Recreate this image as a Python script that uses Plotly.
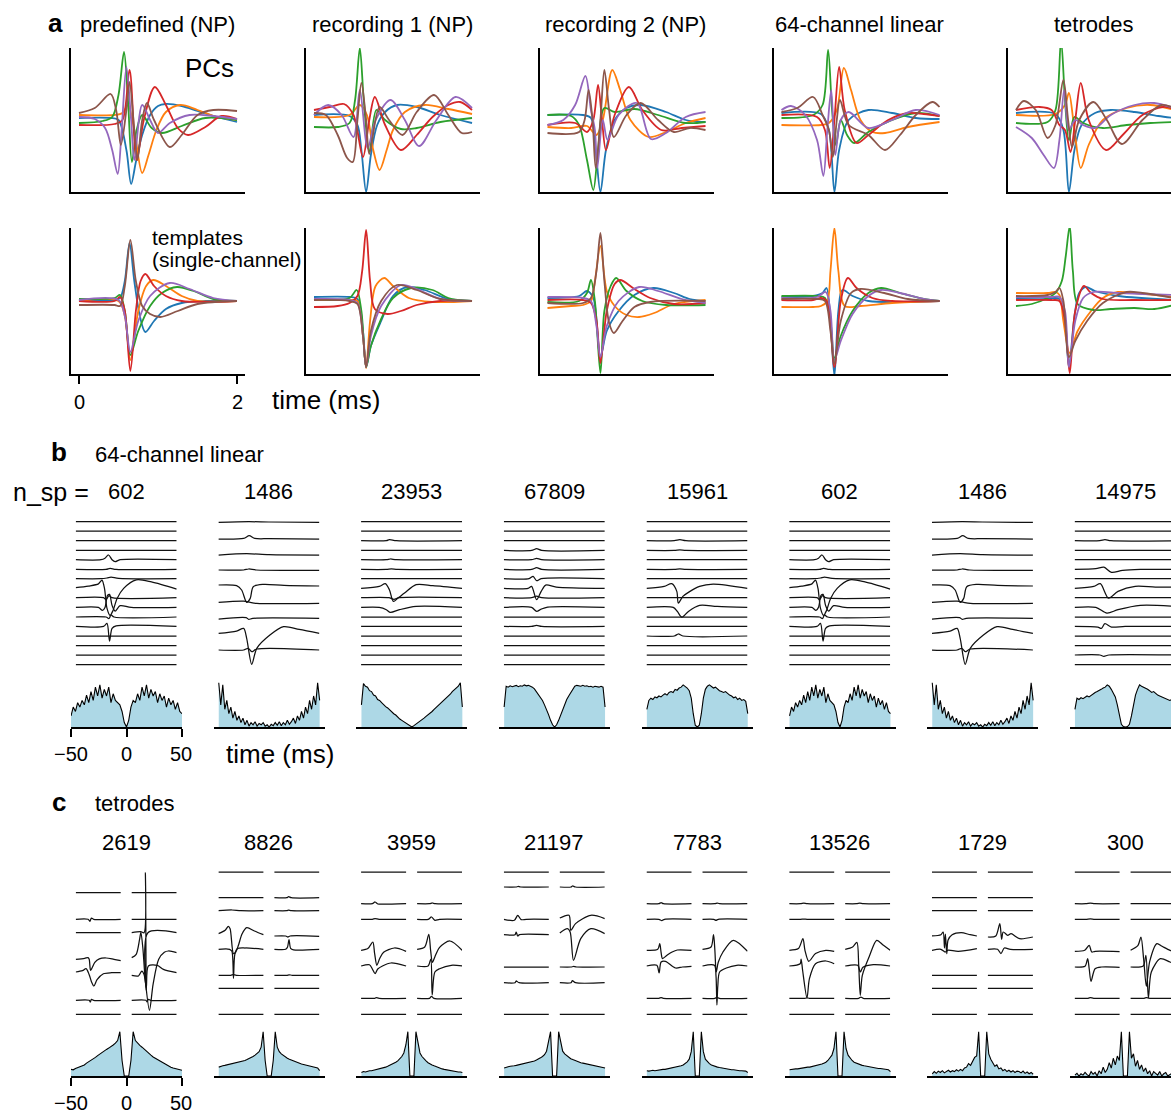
import plotly.graph_objects as go

W, H = 1171, 1113
FONT = "Liberation Sans, Arial, Helvetica, sans-serif"
TAB10 = ["#1f77b4", "#ff7f0e", "#2ca02c", "#d62728", "#9467bd", "#8c564b"]
ACG_BLUE = "#add8e6"

# ============================ DATA ============================
# ---- panel a: (time in ms, amplitude a.u.) key points; colours in tab10 order
A_TITLES = ["predefined (NP)", "recording 1 (NP)", "recording 2 (NP)", "64-channel linear", "tetrodes"]

pc_predefined = [
    [(0,0.2),(0.4,0.2),(0.5,0),(0.6,-3),(0.66,-6.4),(0.72,-4.2),(0.8,-1.5),(0.9,0.5),(1.0,1.4),(1.1,1.6),(1.3,1.4),(1.5,0.9),(1.7,0.4),(2.0,-0.2)],
    [(0,0.5),(0.45,0.5),(0.55,0.7),(0.62,1.5),(0.7,-1),(0.8,-5.3),(0.88,-3.5),(0.98,-1),(1.1,0.8),(1.28,1.5),(1.5,1.0),(1.75,0.3),(2.0,0)],
    [(0,-0.3),(0.3,-0.1),(0.42,0.3),(0.5,2.5),(0.57,6.8),(0.62,2),(0.67,-4.2),(0.73,-1),(0.8,0.5),(0.92,-0.8),(1.05,-1.3),(1.3,-0.6),(1.6,0.2),(2.0,0)],
    [(0,-0.5),(0.45,-0.4),(0.55,0),(0.64,5),(0.73,-4),(0.82,0),(0.96,3.3),(1.1,1.5),(1.25,-0.8),(1.38,-1.5),(1.6,-0.7),(1.8,0.4),(2.0,0.1)],
    [(0,0.3),(0.2,0.1),(0.33,-0.8),(0.42,-3),(0.49,-5.4),(0.54,-1),(0.6,5.3),(0.66,0),(0.7,-4),(0.8,1.5),(0.9,0),(1.0,-1.3),(1.15,-0.3),(1.4,0.5),(1.7,0.4),(2.0,0.1)],
    [(0,0.7),(0.2,1.2),(0.4,2.6),(0.47,1),(0.53,-2.5),(0.6,1),(0.64,3.8),(0.7,-1),(0.74,-4),(0.8,0),(0.86,1.7),(0.95,0),(1.15,-2.7),(1.3,-1.5),(1.5,0.5),(1.7,1),(2.0,0.9)],
]
pc_rec1 = [
    [(0,0.5),(0.45,0.4),(0.55,-0.5),(0.6,-3),(0.66,-7.2),(0.72,-3.5),(0.8,-0.5),(0.9,0.8),(1.05,1.5),(1.3,1.3),(1.6,0.5),(2.0,-0.3)],
    [(0,0.3),(0.45,0.5),(0.58,1.5),(0.67,0.5),(0.75,-3),(0.83,-5),(0.92,-3),(1.0,-1),(1.15,0.8),(1.4,1.5),(1.7,1.1),(2.0,0.6)],
    [(0,-0.7),(0.3,-0.7),(0.45,-0.3),(0.52,2),(0.58,7.2),(0.63,2),(0.7,-3.2),(0.79,1),(0.9,0),(1.1,-0.9),(1.3,-0.8),(1.6,-0.2),(2.0,0.2)],
    [(0,1),(0.2,1.3),(0.38,1.6),(0.5,0.5),(0.62,-3.7),(0.7,0),(0.77,2.3),(0.9,-0.5),(1.1,-3),(1.3,-1.5),(1.5,0.3),(1.7,1.5),(1.85,1.8),(2.0,1)],
    [(0,0.5),(0.18,1.5),(0.35,0.5),(0.5,-1.7),(0.58,3),(0.68,-2.8),(0.78,0),(0.97,2),(1.15,0),(1.33,-2.6),(1.55,0),(1.79,2.3),(2.0,1.2)],
    [(0,0.7),(0.15,0.5),(0.3,-1.5),(0.42,-3.8),(0.49,-4.2),(0.55,0),(0.6,3.7),(0.66,0),(0.7,-3.4),(0.83,1.3),(0.95,0),(1.12,-1.5),(1.3,0.8),(1.52,2.5),(1.7,0.5),(1.87,-1.3),(2.0,-1.2)],
]
pc_rec2 = [
    [(0,0.5),(0.45,0.5),(0.55,0.2),(0.61,-3),(0.67,-7.2),(0.74,-3),(0.85,0),(1.0,1.2),(1.18,1.5),(1.5,0.8),(1.75,0),(2.0,-0.2)],
    [(0,-0.7),(0.3,-0.8),(0.5,-0.6),(0.62,-1.5),(0.7,0),(0.82,5),(0.92,3),(1.05,0),(1.28,-1.7),(1.5,-1.2),(1.75,-0.3),(2.0,0.2)],
    [(0,0.5),(0.3,0.4),(0.4,-0.5),(0.5,-4),(0.58,-7),(0.64,-3),(0.72,1.2),(0.85,0.8),(1.1,1.1),(1.4,0.5),(1.75,-0.3),(2.0,-0.2)],
    [(0,-0.5),(0.35,-0.3),(0.5,-1.2),(0.58,0),(0.64,3.5),(0.69,0),(0.74,-3),(0.85,0.5),(1.03,3.3),(1.2,1),(1.44,-1),(1.7,-0.8),(2.0,-0.6)],
    [(0,-0.5),(0.2,0),(0.35,1.5),(0.48,4.4),(0.55,1),(0.6,-1),(0.63,-4.8),(0.7,0),(0.76,-2),(0.9,0.5),(1.13,1.7),(1.31,-1.9),(1.5,-1.3),(1.75,0.3),(2.0,0.8)],
    [(0,-1.3),(0.4,-1.2),(0.47,0),(0.52,3),(0.57,0),(0.61,-4.8),(0.67,0),(0.72,5),(0.78,1),(0.84,-1.7),(1.0,0.5),(1.18,1.7),(1.4,0),(1.6,-1.2),(1.8,-0.8),(2.0,-1.0)],
]
pc_linear64 = [
    [(0,0.7),(0.5,0.6),(0.6,-1),(0.67,-7.2),(0.73,-3),(0.85,0),(1.1,1),(1.4,0.7),(1.7,0.2),(2.0,0.1)],
    [(0,-0.5),(0.5,-0.5),(0.6,-0.3),(0.7,1),(0.79,5.2),(0.88,3),(1.0,0),(1.15,-1.2),(1.31,-1.3),(1.6,-0.7),(2.0,-0.2)],
    [(0,0.2),(0.4,0.5),(0.52,1.5),(0.59,7),(0.64,1),(0.69,-2.5),(0.75,0),(0.83,-1.5),(0.92,-2.3),(1.1,-1.2),(1.4,0),(1.7,0.7),(2.0,0.4)],
    [(0,0.5),(0.45,0.3),(0.55,-1),(0.61,-4.8),(0.67,0),(0.73,5.3),(0.8,1),(0.95,-2.3),(1.1,-1.5),(1.35,0),(1.6,0.7),(1.8,0.6),(2.0,0.4)],
    [(0,1),(0.12,1.4),(0.3,0.5),(0.45,-2),(0.53,-5.6),(0.58,-1),(0.63,3),(0.68,-3.5),(0.75,0),(0.85,0.8),(1.1,-0.8),(1.4,0),(1.7,1),(2.0,0.5)],
    [(0,0.8),(0.2,1.2),(0.4,2.3),(0.52,0.5),(0.6,-1),(0.65,-3.7),(0.7,0),(0.74,2),(0.85,-0.5),(1.1,-1.5),(1.31,-3),(1.5,-1.5),(1.7,0.5),(1.91,1.8),(2.0,1.3)],
]
pc_tetrodes = [
    [(0,0.7),(0.5,0.6),(0.6,-1),(0.67,-7.2),(0.74,-3),(0.83,-0.5),(1.0,0.7),(1.2,1),(1.5,0.8),(1.8,0.4),(2.0,0.2)],
    [(0,0.5),(0.5,0.6),(0.62,1.5),(0.67,2.7),(0.74,-1),(0.82,-4.8),(0.92,-2.5),(1.1,0),(1.4,1.2),(1.7,1.5),(2.0,1.0)],
    [(0,-0.3),(0.4,-0.2),(0.5,1),(0.57,8),(0.62,2),(0.67,-2),(0.74,0.3),(0.85,-0.3),(1.1,-0.8),(1.4,-0.5),(1.7,-0.3),(2.0,-0.2)],
    [(0,1),(0.3,1.3),(0.45,1),(0.55,-0.5),(0.62,-1),(0.69,-3.2),(0.75,0),(0.82,3.7),(0.92,0),(1.14,-3),(1.35,-1.5),(1.6,0.5),(1.86,1.3),(2.0,1.1)],
    [(0,-0.7),(0.2,-1.8),(0.35,-3.5),(0.48,-4.8),(0.55,-2),(0.61,3),(0.67,-1),(0.75,0),(0.85,-0.5),(1.0,-0.8),(1.2,0.5),(1.5,1.5),(1.75,1.7),(2.0,1.2)],
    [(0,1),(0.1,1.9),(0.25,1),(0.4,-1.8),(0.5,-0.5),(0.6,4),(0.66,0),(0.71,-2.7),(0.8,0),(0.98,1.8),(1.15,0),(1.34,-2.4),(1.6,0),(1.84,1.5),(2.0,1.2)],
]

tpl_predefined = [
    [(0,0.1),(0.45,0.1),(0.52,0.3),(0.58,2),(0.64,5.8),(0.7,2),(0.77,-1.5),(0.84,-3.1),(0.95,-2),(1.1,-0.8),(1.3,-0.2),(1.6,0),(2.0,0)],
    [(0,0),(0.5,0),(0.58,-1.5),(0.65,-5.9),(0.75,-1),(0.85,1.5),(0.94,2.1),(1.1,1.5),(1.3,0.5),(1.5,0),(2.0,0)],
    [(0,0.2),(0.45,0.3),(0.52,0.6),(0.58,-1),(0.65,-5.4),(0.75,-3),(0.9,-0.5),(1.05,0.8),(1.24,1.4),(1.45,1),(1.7,0.2),(2.0,0)],
    [(0,0),(0.45,0),(0.52,0.4),(0.58,-1),(0.65,-7),(0.72,-1),(0.78,2),(0.84,2.7),(0.95,1.5),(1.1,0.5),(1.3,0),(2.0,0)],
    [(0,0.1),(0.5,0.1),(0.58,-1.5),(0.65,-5.1),(0.75,-2),(0.9,0.5),(1.15,1.8),(1.4,1.2),(1.7,0.3),(2.0,0)],
    [(0,-0.4),(0.45,-0.4),(0.52,-0.5),(0.58,1.5),(0.65,6.1),(0.72,2),(0.8,-0.5),(0.9,-1.3),(1.03,-1.6),(1.25,-1),(1.5,-0.3),(2.0,0)],
]
tpl_rec1 = [
    [(0,0.4),(0.45,0.4),(0.55,0.2),(0.62,-3),(0.66,-6.6),(0.72,-4.5),(0.85,-2),(1.0,0.5),(1.18,1.4),(1.4,1.1),(1.7,0.2),(2.0,0)],
    [(0,0.1),(0.45,0.1),(0.55,0),(0.62,-3.5),(0.66,-6.7),(0.71,-2),(0.78,1.5),(0.89,2.3),(1.0,1.5),(1.2,0.3),(1.5,-0.1),(2.0,0)],
    [(0,0.2),(0.45,0.3),(0.54,1.1),(0.6,-1),(0.66,-6.6),(0.72,-4.5),(0.85,-1.8),(1.0,0.3),(1.23,1.3),(1.5,1.1),(1.7,0.3),(2.0,0)],
    [(0,-0.6),(0.3,-0.5),(0.45,-0.2),(0.55,0.5),(0.61,3),(0.66,7.1),(0.71,2),(0.77,-0.8),(0.93,-1.3),(1.1,-1),(1.3,-0.4),(1.6,0),(2.0,0)],
    [(0,0.2),(0.45,0.1),(0.55,-0.2),(0.62,-3.5),(0.66,-6.6),(0.72,-3.5),(0.85,-0.5),(1.1,1.6),(1.3,1.2),(1.6,0.2),(2.0,0)],
    [(0,0.1),(0.45,0),(0.55,-0.3),(0.62,-3.5),(0.66,-6.6),(0.72,-3),(0.85,0),(1.05,1.6),(1.3,1.1),(1.6,0.2),(2.0,0)],
]
tpl_rec2 = [
    [(0,0.3),(0.4,0.5),(0.5,1),(0.58,0.3),(0.67,-5.6),(0.75,-3),(0.9,-1),(1.1,0.6),(1.34,1.3),(1.6,0.8),(1.8,0.2),(2.0,0)],
    [(0,-0.7),(0.3,-0.5),(0.45,-0.4),(0.55,0),(0.6,2),(0.67,5.5),(0.75,1),(0.85,-0.5),(1.0,-1.4),(1.16,-1.6),(1.35,-1.2),(1.6,-0.3),(2.0,0.1)],
    [(0,-0.1),(0.4,0),(0.5,0.8),(0.55,2.1),(0.6,0),(0.67,-7.2),(0.72,-1),(0.8,1.5),(0.87,2.3),(1.0,1),(1.2,0),(1.5,-0.4),(2.0,-0.4)],
    [(0,0.1),(0.45,0.1),(0.55,-0.2),(0.62,-2),(0.67,-6.2),(0.75,-1),(0.85,1.7),(0.92,2.1),(1.1,1.2),(1.3,0.3),(1.6,-0.3),(2.0,-0.2)],
    [(0,0.4),(0.45,0.3),(0.55,0),(0.62,-2.5),(0.67,-5.6),(0.75,-2.5),(0.9,0),(1.16,1.4),(1.4,1),(1.7,0.2),(2.0,-0.2)],
    [(0,-0.2),(0.45,-0.2),(0.55,0.3),(0.62,3),(0.67,6.8),(0.72,2),(0.78,-2.2),(0.84,-3.2),(0.95,-2),(1.1,-0.6),(1.3,-0.1),(2.0,0)],
]
tpl_linear64 = [
    [(0,0.4),(0.4,0.5),(0.52,0.8),(0.57,1.3),(0.62,-2),(0.67,-7.5),(0.72,-1),(0.77,1.1),(0.9,0.5),(1.1,0),(2.0,0)],
    [(0,-0.6),(0.4,-0.6),(0.5,-0.5),(0.58,0),(0.62,3),(0.67,7.3),(0.72,3),(0.8,-0.5),(1.0,-0.5),(1.4,-0.2),(2.0,0)],
    [(0,0.5),(0.45,0.5),(0.55,0.3),(0.62,-2),(0.67,-5.7),(0.75,-3.5),(0.9,-1),(1.1,0.8),(1.26,1.3),(1.5,0.8),(1.8,0.2),(2.0,0)],
    [(0,0.1),(0.4,0.1),(0.5,0.3),(0.57,0),(0.67,-6.6),(0.75,0),(0.84,2.3),(0.95,1.3),(1.15,0.3),(1.4,0),(2.0,0)],
    [(0,0.3),(0.45,0.4),(0.56,0.9),(0.62,-1),(0.67,-5.9),(0.75,-4),(0.9,-1.3),(1.1,0.5),(1.26,1.1),(1.5,0.8),(1.8,0.2),(2.0,0)],
    [(0,0.2),(0.45,0.2),(0.55,0),(0.62,-3),(0.67,-6.3),(0.75,-2),(0.88,0.8),(1.0,1.2),(1.3,0.8),(1.6,0.2),(2.0,0)],
]
tpl_tetrodes = [
    [(0,0.3),(0.45,0.3),(0.55,0.2),(0.62,-2),(0.67,-6.6),(0.74,-1.5),(0.8,0.8),(0.88,1.4),(1.0,1),(1.3,0.5),(2.0,0.1)],
    [(0,0.8),(0.4,0.8),(0.5,0.9),(0.55,0.6),(0.6,-2),(0.68,-5.2),(0.78,-3),(0.95,-1),(1.1,0.3),(1.29,0.9),(1.5,0.8),(2.0,0.4)],
    [(0,-0.5),(0.2,-0.3),(0.4,0.3),(0.5,0.8),(0.58,2),(0.63,4.5),(0.68,7.5),(0.72,3),(0.78,-0.3),(0.98,-0.9),(1.2,-0.8),(1.5,-0.7),(1.75,-0.8),(2.0,-0.4)],
    [(0,0.1),(0.45,0.1),(0.55,0),(0.62,-2),(0.68,-7.2),(0.75,-1),(0.86,1.5),(0.95,0.8),(1.1,0.2),(1.5,0.1),(2.0,0.1)],
    [(0,0.4),(0.45,0.4),(0.55,0.4),(0.62,-1),(0.67,-6.6),(0.75,-2),(0.85,0.3),(0.98,0.9),(1.3,0.8),(1.6,0.7),(2.0,0.6)],
    [(0,0.5),(0.4,0.6),(0.5,0.9),(0.55,1.3),(0.6,0),(0.67,-5.6),(0.75,-4),(0.9,-2),(1.1,-0.2),(1.4,0.9),(1.6,0.8),(2.0,0.3)],
]

# ---- shared ACG lag bins (ms)
ACG_LAGS = [-50, -48, -46, -44, -42, -40, -38, -36, -34, -32, -30, -28, -26, -24, -22, -20, -18, -16,
            -14, -12, -10, -8, -6, -4, -2, 0, 2, 4, 6, 8, 10, 12, 14, 16, 18, 20, 22, 24, 26, 28, 30,
            32, 34, 36, 38, 40, 42, 44, 46, 48, 50]
FLAT = [(0, 0), (2, 0)]

# ---- panel b: 64-channel linear units (channel offsets a.u., waveforms a.u.)
B_NSP = [602, 1486, 23953, 67809, 15961, 602, 1486, 14975]
rows16 = [0, 9.3, 19, 28.7, 38, 47.7, 57, 66.7, 76, 85.7, 95.3, 104.7, 114.3, 124, 133.3, 143]
rows9 = [0, 16.7, 32.7, 48.3, 64, 80.7, 96.7, 111.7, 128.3]

wav_602 = {
    4: [(0,0),(0.5,0),(0.58,1.5),(0.65,4.7),(0.72,0),(0.78,-2),(0.88,0),(2,0)],
    5: [(0,0),(0.6,0),(0.68,1),(0.8,0),(2,0)],
    6: [(0,0),(0.5,0),(0.62,0.7),(0.7,1.5),(0.85,0.3),(2,0)],
    7: [(0,0.7),(0.25,2.3),(0.45,4.5),(0.52,8.3),(0.57,0),(0.62,-20),(0.68,-27),(0.74,-22),(0.82,-10),(0.95,0),(1.2,8.5),(1.5,6.5),(2,-0.7)],
    8: [(0,0),(0.55,0),(0.6,-2),(0.66,2),(0.72,0),(2,0)],
    9: [(0,0),(0.45,0),(0.53,-3),(0.58,0),(0.63,12),(0.67,13),(0.72,2),(0.78,-3.7),(0.88,1.7),(1.1,0),(2,0)],
    10: [(0,0),(0.6,0),(0.66,-1.5),(0.7,2),(0.76,0),(2,0)],
    11: [(0,0),(0.55,0),(0.62,3),(0.67,-14.7),(0.72,-2),(0.8,0.5),(2,0)],
}
wav_1486 = {
    0: [(0,-0.7),(0.6,0),(1.0,-0.3),(2,-0.7)],
    1: [(0,-0.7),(0.5,0),(0.61,2.7),(0.72,0),(1,-0.3),(2,-0.7)],
    2: [(0,-0.7),(0.56,0.7),(1.0,-0.3),(2,-0.7)],
    3: [(0,0),(0.5,0),(0.6,1),(0.75,0),(2,-0.3)],
    4: [(0,0.7),(0.36,0),(0.46,-4.3),(0.56,-16.7),(0.63,-12.7),(0.69,-1),(0.89,1.3),(1.3,0.3),(2,-0.3)],
    5: [(0,0),(0.5,1.3),(0.63,0),(0.76,-1),(2,-1)],
    6: [(0,-0.7),(0.55,0.7),(0.6,-1),(0.68,0),(2,0)],
    7: [(0,0),(0.36,2.3),(0.5,5),(0.56,-5),(0.66,-31),(0.76,-15),(1.02,-1.7),(1.29,6.7),(1.6,4),(2,0)],
    8: [(0,0),(0.5,0),(0.59,1.7),(0.66,-1.7),(0.76,1),(2,0)],
}
wav_23953 = {
    2: [(0,0),(0.5,0),(0.56,1),(0.7,0),(2,0)],
    4: [(0,0),(0.5,0),(0.58,0.7),(0.7,0),(2,0)],
    5: [(0,0),(0.5,0),(0.6,0.5),(0.72,0),(2,0)],
    7: [(0,0),(0.36,2),(0.48,4.7),(0.56,-1.3),(0.64,-13),(0.73,-9.7),(0.86,-4.7),(1.09,3.7),(1.42,2.7),(2,0)],
    8: [(0,0),(0.55,0),(0.65,-1.7),(0.76,0),(2,0)],
    9: [(0,0),(0.36,0),(0.5,-2.3),(0.58,-5),(0.76,-2.3),(1.09,1),(2,0)],
}
wav_67809 = {
    3: [(0,0),(0.55,0),(0.65,1.7),(0.75,0),(2,0)],
    4: [(0,0),(0.55,0),(0.65,1.3),(0.75,0),(2,0)],
    5: [(0,0),(0.55,0),(0.65,1.7),(0.75,0),(2,0)],
    6: [(0,0),(0.5,0),(0.58,2.3),(0.65,-2),(0.74,0),(2,0)],
    7: [(0,0),(0.48,0),(0.55,2),(0.65,-11.3),(0.74,-3),(0.83,3.3),(1.04,1.3),(2,0)],
    8: [(0,0),(0.55,0),(0.65,1.5),(0.75,0),(2,0)],
    9: [(0,0),(0.55,0),(0.65,-4),(0.74,-1.7),(0.87,0.3),(2,0)],
    11: [(0,0),(0.55,0),(0.65,1),(0.75,0),(2,0)],
}
wav_15961 = {
    2: [(0,0),(0.55,0),(0.66,1),(0.78,0),(2,0)],
    3: [(0,0),(0.55,0),(0.66,0.5),(0.78,0),(2,0)],
    5: [(0,0),(0.55,0),(0.66,0.5),(0.78,0),(2,0)],
    7: [(0,0),(0.35,2),(0.5,4.7),(0.6,-3),(0.63,-14.7),(0.72,-8),(0.83,-4),(1.05,2),(1.32,4.3),(2,0)],
    9: [(0,0),(0.53,0),(0.61,-4),(0.7,-9.7),(0.83,-4),(1.05,2),(1.4,1),(2,0)],
    12: [(0,0),(0.55,0),(0.63,2),(0.72,0),(2,0)],
}
wav_14975 = {
    2: [(0,0),(0.5,0),(0.6,1),(0.72,0),(2,0)],
    5: [(0,0),(0.42,0.7),(0.58,2.3),(0.73,-3),(0.95,-1),(1.3,0),(2,0)],
    7: [(0,0),(0.38,2),(0.51,4.7),(0.67,-9.7),(0.86,-3),(1.2,2),(1.6,1.3),(2,1.3)],
    9: [(0,0),(0.42,0),(0.64,-5.7),(0.86,-2.3),(1.3,2),(2,1)],
    11: [(0,0),(0.46,-0.7),(0.53,-2),(0.6,2.7),(0.73,-0.7),(1,0),(2,0)],
    14: [(0,0),(0.5,0),(0.58,-1.3),(0.68,0),(2,0)],
}

acg_602 = [0.25, 0.45, 0.35, 0.55, 0.45, 0.6, 0.5, 0.72, 0.55, 0.8, 0.6, 0.9, 0.7, 0.95, 0.65, 0.85, 0.7, 0.9,
           0.55, 0.75, 0.6, 0.55, 0.5, 0.35, 0.1, 0.0, 0.15, 0.45, 0.6, 0.55, 0.75, 0.6, 0.9, 0.7, 0.95, 0.65,
           0.85, 0.7, 0.8, 0.55, 0.75, 0.6, 0.7, 0.45, 0.65, 0.5, 0.6, 0.4, 0.55, 0.35, 0.3]
acg_1486 = [1.0, 0.5, 0.95, 0.4, 0.6, 0.3, 0.45, 0.2, 0.35, 0.15, 0.25, 0.1, 0.2, 0.05, 0.15, 0.02, 0.1, 0.05,
            0.12, 0.02, 0.08, 0.05, 0.1, 0.02, 0.05, 0.0, 0.06, 0.03, 0.1, 0.04, 0.12, 0.03, 0.1, 0.05, 0.15,
            0.06, 0.12, 0.2, 0.08, 0.25, 0.15, 0.35, 0.2, 0.45, 0.3, 0.6, 0.4, 0.7, 0.5, 1.0, 0.6]
acg_23953 = [0.5, 0.98, 0.92, 0.9, 0.82, 0.8, 0.72, 0.7, 0.62, 0.6, 0.55, 0.5, 0.46, 0.43, 0.38, 0.35, 0.3,
             0.27, 0.22, 0.18, 0.15, 0.12, 0.08, 0.05, 0.03, 0.0, 0.03, 0.06, 0.09, 0.12, 0.16, 0.2, 0.24,
             0.27, 0.32, 0.35, 0.4, 0.44, 0.48, 0.52, 0.56, 0.62, 0.66, 0.7, 0.74, 0.8, 0.84, 0.9, 0.92, 1.0, 0.45]
acg_67809 = [0.45, 0.92, 0.9, 0.93, 0.91, 0.92, 0.94, 0.91, 0.93, 0.92, 0.95, 0.93, 0.94, 0.92, 0.9, 0.86,
             0.8, 0.74, 0.68, 0.6, 0.5, 0.4, 0.28, 0.15, 0.05, 0.0, 0.05, 0.15, 0.28, 0.4, 0.52, 0.62, 0.7,
             0.78, 0.86, 0.92, 0.94, 0.93, 0.92, 0.94, 0.92, 0.93, 0.91, 0.92, 0.9, 0.92, 0.91, 0.9, 0.92, 0.9, 0.45]
acg_15961 = [0.4, 0.6, 0.65, 0.62, 0.68, 0.66, 0.7, 0.68, 0.72, 0.75, 0.72, 0.78, 0.8, 0.78, 0.85, 0.83, 0.88,
             0.9, 0.95, 0.92, 0.88, 0.82, 0.65, 0.3, 0.04, 0.0, 0.04, 0.3, 0.65, 0.85, 0.92, 0.95, 0.92, 0.88,
             0.9, 0.85, 0.82, 0.8, 0.78, 0.8, 0.75, 0.72, 0.7, 0.66, 0.68, 0.62, 0.65, 0.6, 0.62, 0.58, 0.3]
acg_14975 = [0.4, 0.65, 0.62, 0.66, 0.64, 0.68, 0.7, 0.68, 0.72, 0.74, 0.78, 0.8, 0.82, 0.85, 0.88, 0.9, 0.95,
             0.92, 0.85, 0.78, 0.68, 0.5, 0.25, 0.06, 0.01, 0.0, 0.01, 0.06, 0.25, 0.52, 0.72, 0.85, 0.95,
             0.92, 0.9, 0.88, 0.85, 0.82, 0.78, 0.8, 0.75, 0.72, 0.7, 0.68, 0.66, 0.64, 0.62, 0.6, 0.62, 0.58, 0.3]

# ---- panel c: tetrode units (row offsets a.u.; left / right column waveforms a.u.)
C_NSP = [2619, 8826, 3959, 21197, 7783, 13526, 1729, 300]
rows_2619 = [20.7, 47.3, 60.7, 87.3, 100.7, 128.3, 142.3]
rows_8826 = [0, 25.7, 38.7, 64, 77.3, 103.3, 116.3, 142.3]
rows_3959 = [0, 31.7, 47.3, 78.3, 94, 126.3, 142.3]
rows_21197 = [0, 15, 47.3, 62.7, 95, 110.7, 142.3]
rows_7783 = [0, 31.7, 47.3, 78.3, 94, 126.3, 142.3]
rows_13526 = [0, 31.7, 47.3, 78.3, 94, 126.3, 142.3]
rows_1729 = [0, 25.7, 38.7, 64, 77.3, 103.3, 116.3, 142.3]
rows_300 = [0, 31.7, 47.3, 79.3, 95, 126.3, 142.3]

tet_2619_l = {
    1: [(0,0),(0.55,0),(0.63,-2),(0.7,1.2),(0.8,0),(2,0)],
    3: [(0,0),(0.4,1),(0.55,1.7),(0.6,0),(0.66,-11),(0.72,-9),(0.85,-3),(1.05,0.5),(1.35,1.3),(1.7,0),(2,-1.3)],
    4: [(0,0.7),(0.3,2),(0.46,4),(0.6,-2),(0.7,-9),(0.81,-13.3),(0.95,-7),(1.23,-1),(1.6,0),(2,0)],
    5: [(0,0),(0.6,0),(0.65,-1.7),(0.7,1),(0.8,0),(2,0)],
}
tet_2619_r = {
    2: [(0,0),(0.4,1),(0.55,0),(0.61,60),(0.65,-58),(0.72,0),(2,0)],
    3: [(0,1.7),(0.2,5),(0.35,20),(0.41,27),(0.5,10),(0.6,-20),(0.79,-51),(0.95,-25),(1.2,0),(1.45,7),(1.63,8.3),(2,6.7)],
    4: [(0,-2.7),(0.3,-3.3),(0.45,1.7),(0.55,-1.7),(0.65,-15),(0.74,6.7),(1.14,7.3),(1.41,3.3),(2,0)],
    5: [(0,0),(0.63,0),(0.68,-1.5),(0.74,1),(0.85,0),(2,0)],
}
tet_8826_l = {
    2: [(0,0),(0.6,0.7),(1,0),(2,0)],
    3: [(0,2.3),(0.3,5.7),(0.44,9.7),(0.52,7.3),(0.67,-17.7),(0.77,-16),(0.89,-9.3),(1.05,2),(1.26,8.3),(1.6,5),(2,1.3)],
    4: [(0,0),(0.5,0),(0.6,-2),(0.67,-29),(0.73,-5),(0.85,0.7),(1.2,1.3),(2,0)],
    5: [(0,0),(0.55,0),(0.66,0.7),(0.8,0),(2,0)],
}
tet_8826_r = {
    1: [(0,0),(0.55,0),(0.63,1),(0.75,0),(2,0)],
    2: [(0,0),(0.55,0),(0.63,0.5),(0.75,0),(2,0)],
    3: [(0,0),(0.5,0),(0.6,-1),(0.7,0),(2,-0.3)],
    4: [(0,0),(0.5,0),(0.58,2),(0.65,9.7),(0.72,1),(0.85,-0.5),(2,0)],
    5: [(0,0),(0.55,0),(0.65,0.5),(0.8,0),(2,0)],
}
tet_3959_l = {
    1: [(0,0),(0.5,0),(0.62,1.7),(0.75,-0.3),(1,-0.5),(2,0)],
    2: [(0,0),(0.5,0),(0.62,0.7),(0.8,0),(2,0)],
    3: [(0,0),(0.3,1.7),(0.52,8.3),(0.6,-3),(0.7,-15),(0.83,-8),(1.0,-2),(1.48,2.3),(2,-1)],
    4: [(0,0),(0.37,1.3),(0.5,-3),(0.62,-7.7),(0.74,-3),(0.95,0),(1.33,3),(2,0)],
    5: [(0,0),(0.6,0),(0.67,0.7),(0.8,0),(2,0)],
}
tet_3959_r = {
    1: [(0,0),(0.55,0),(0.68,0.7),(0.8,0),(2,0)],
    2: [(0,0),(0.5,0),(0.64,2.3),(0.79,-1),(1,0),(2,0)],
    3: [(0,1),(0.34,3.3),(0.52,16),(0.6,0),(0.68,-12),(0.8,-6),(1.0,3),(1.46,9.3),(2,0)],
    4: [(0,0),(0.49,0),(0.61,7),(0.67,-29),(0.79,-6),(1.0,-2.7),(1.52,0.7),(2,0)],
    5: [(0,0),(0.55,0),(0.64,2),(0.75,0),(2,0)],
}
tet_21197_l = {
    1: [(0,0),(0.55,0),(0.63,0.5),(0.75,0),(2,0)],
    2: [(0,0),(0.47,-1),(0.62,4),(0.77,-0.3),(1.0,0),(2,0)],
    3: [(0,0),(0.5,0),(0.55,2.7),(0.62,-1.3),(0.7,0),(2,0)],
    5: [(0,0),(0.5,0),(0.55,1.7),(0.68,0),(2,0)],
}
tet_21197_r = {
    1: [(0,0),(0.5,0),(0.56,1),(0.7,0),(2,0)],
    2: [(0,1.3),(0.41,4),(0.49,-11),(0.7,-4.3),(1.38,4),(2,0.7)],
    3: [(0,1.7),(0.34,6),(0.46,2.7),(0.61,-25.7),(0.93,-4),(1.38,6),(2,1)],
    4: [(0,0),(0.5,0),(0.6,0.5),(0.75,0),(2,0)],
    5: [(0,0),(0.5,0),(0.56,2),(0.7,0),(2,0)],
}
tet_7783_l = {
    1: [(0,0),(0.55,0),(0.65,1),(0.75,0),(2,0)],
    2: [(0,0),(0.55,0),(0.68,-1.3),(0.8,0),(2,0)],
    3: [(0,0),(0.5,1),(0.59,6.7),(0.65,-2.3),(0.71,-8.3),(0.91,-5),(1.14,-1.7),(1.37,0.3),(2,0)],
    4: [(0,0),(0.46,0.7),(0.56,-7),(0.65,4),(0.84,4.7),(1.29,-2),(1.6,-1),(2,-0.3)],
    5: [(0,0),(0.55,0),(0.65,0.7),(0.75,0),(2,0)],
}
tet_7783_r = {
    1: [(0,0),(0.55,0),(0.65,0.7),(0.75,0),(2,0)],
    2: [(0,0),(0.5,0),(0.6,-1),(0.7,0),(2,0)],
    3: [(0,1),(0.38,3.3),(0.49,15.7),(0.55,0),(0.61,-21.7),(0.7,-12),(0.91,-1.7),(1.37,10),(2,-1)],
    4: [(0,0),(0.53,0.7),(0.6,-10),(0.64,-39),(0.68,-20),(0.76,-6),(1.06,-2),(1.52,0.7),(2,0)],
    5: [(0,0),(0.55,0),(0.64,1),(0.75,0),(2,0)],
}
tet_13526_l = {
    1: [(0,0),(0.5,0),(0.65,0.7),(0.8,0),(2,0)],
    2: [(0,0),(0.5,0),(0.65,0.3),(0.8,0),(2,0)],
    3: [(0,0),(0.41,1.7),(0.61,11.7),(0.7,0),(0.87,-11),(1.17,-3.3),(1.63,0),(2,-1)],
    4: [(0,0),(0.49,2.3),(0.53,7),(0.6,-5),(0.79,-32),(0.9,-12.7),(1.17,2.3),(1.63,5),(2,2.3)],
    5: [(0,0),(0.7,0),(0.79,0.5),(0.9,0),(2,0)],
}
tet_13526_r = {
    1: [(0,0),(0.5,0),(0.65,0.5),(0.8,0),(2,0)],
    3: [(0,1),(0.33,3.3),(0.52,8),(0.6,-15),(0.67,-45),(0.76,-25),(1.09,-5),(1.4,10),(1.7,5),(2,0)],
    4: [(0,0),(0.56,0.7),(0.67,-6),(0.79,-1.3),(1.25,1.3),(2,0)],
    5: [(0,0),(0.6,0),(0.7,1.3),(0.8,0),(2,0)],
}
tet_1729_l = {
    3: [(0,0),(0.4,1.3),(0.5,4),(0.56,-12),(0.6,2),(0.66,-17.7),(0.72,-4),(0.9,1.3),(1.3,3.3),(1.7,1.3),(2,0)],
    4: [(0,-1),(0.4,0),(0.59,-2.7),(0.7,-1),(1.17,-2),(2,0.7)],
}
tet_1729_r = {
    3: [(0,-1),(0.35,0),(0.53,12.3),(0.61,-3.3),(0.68,4),(0.88,0.7),(1.03,2.3),(1.41,-2.7),(2,-1)],
    4: [(0,0),(0.43,0),(0.58,-4.3),(0.73,1.3),(1,0),(2,0)],
}
tet_300_l = {
    1: [(0,0),(0.5,0),(0.7,0.5),(0.9,0),(2,0)],
    2: [(0,0),(0.5,0),(0.7,0.5),(0.9,0),(2,0)],
    3: [(0,0),(0.45,1),(0.65,6),(0.76,-0.7),(0.91,0),(2,-0.3)],
    4: [(0,0),(0.46,0.7),(0.58,8.3),(0.65,-2),(0.73,-14.3),(0.91,-1.7),(1.2,0),(2,-0.3)],
    5: [(0,0),(0.6,0),(0.7,0.7),(0.85,0),(2,0)],
}
tet_300_r = {
    3: [(0,1),(0.33,6),(0.46,14.3),(0.58,-8),(0.7,-35),(0.85,-10),(1.17,7.7),(1.4,5),(1.75,1),(2,0)],
    4: [(0,0),(0.56,1),(0.68,11.7),(0.79,-31),(0.92,-5),(1.32,8.3),(1.75,5),(2,3)],
    5: [(0,0),(0.6,0),(0.7,0.7),(0.85,0),(2,0)],
}

acg_2619 = [0.15, 0.14, 0.17, 0.19, 0.2, 0.23, 0.25, 0.29, 0.32, 0.35, 0.38, 0.42, 0.46, 0.5, 0.53, 0.57,
            0.6, 0.63, 0.66, 0.7, 0.74, 0.8, 1.0, 0.35, 0.0, 0.0, 0.0, 0.35, 1.0, 0.8, 0.74, 0.69, 0.65,
            0.6, 0.56, 0.52, 0.47, 0.43, 0.4, 0.37, 0.34, 0.31, 0.28, 0.25, 0.22, 0.2, 0.18, 0.17, 0.15, 0.14, 0.13]
acg_8826 = [0.2, 0.22, 0.23, 0.24, 0.25, 0.26, 0.27, 0.28, 0.29, 0.3, 0.31, 0.32, 0.34, 0.35, 0.37, 0.39,
            0.41, 0.44, 0.47, 0.5, 0.55, 0.65, 1.0, 0.35, 0.0, 0.0, 0.0, 0.35, 1.0, 0.65, 0.55, 0.5, 0.46,
            0.43, 0.4, 0.38, 0.36, 0.34, 0.32, 0.3, 0.29, 0.27, 0.26, 0.25, 0.23, 0.22, 0.21, 0.2, 0.19, 0.18, 0.12]
acg_3959 = [0.08, 0.1, 0.09, 0.11, 0.12, 0.12, 0.13, 0.14, 0.15, 0.16, 0.18, 0.19, 0.2, 0.22, 0.24, 0.26,
            0.28, 0.31, 0.34, 0.38, 0.44, 0.52, 0.7, 1.0, 0.0, 0.0, 0.0, 1.0, 0.72, 0.52, 0.44, 0.38, 0.34,
            0.3, 0.27, 0.25, 0.23, 0.21, 0.19, 0.17, 0.16, 0.15, 0.14, 0.13, 0.12, 0.11, 0.1, 0.1, 0.09, 0.09, 0.08]
acg_21197 = [0.18, 0.2, 0.21, 0.22, 0.22, 0.23, 0.24, 0.25, 0.26, 0.27, 0.28, 0.29, 0.3, 0.31, 0.33, 0.34,
             0.36, 0.38, 0.41, 0.44, 0.48, 0.56, 0.75, 1.0, 0.0, 0.0, 0.0, 1.0, 0.75, 0.56, 0.5, 0.46, 0.42,
             0.39, 0.37, 0.35, 0.33, 0.31, 0.3, 0.29, 0.28, 0.27, 0.26, 0.25, 0.24, 0.23, 0.22, 0.21, 0.2, 0.2, 0.18]
acg_7783 = [0.12, 0.11, 0.12, 0.13, 0.12, 0.13, 0.14, 0.14, 0.15, 0.15, 0.16, 0.17, 0.17, 0.18, 0.19, 0.2,
            0.21, 0.23, 0.25, 0.28, 0.32, 0.38, 0.55, 1.0, 0.0, 0.0, 0.0, 1.0, 0.55, 0.38, 0.32, 0.28, 0.25,
            0.23, 0.21, 0.2, 0.19, 0.18, 0.17, 0.16, 0.16, 0.15, 0.14, 0.14, 0.13, 0.13, 0.12, 0.12, 0.11, 0.11, 0.08]
acg_13526 = [0.14, 0.15, 0.15, 0.16, 0.16, 0.17, 0.18, 0.18, 0.19, 0.2, 0.2, 0.21, 0.22, 0.23, 0.24, 0.25,
             0.27, 0.29, 0.31, 0.35, 0.4, 0.47, 0.62, 1.0, 0.0, 0.0, 0.0, 1.0, 0.62, 0.47, 0.4, 0.35, 0.31,
             0.29, 0.27, 0.25, 0.24, 0.23, 0.22, 0.21, 0.2, 0.2, 0.19, 0.18, 0.17, 0.17, 0.16, 0.15, 0.15, 0.14, 0.1]
acg_1729 = [0.05, 0.1, 0.06, 0.11, 0.08, 0.12, 0.07, 0.1, 0.13, 0.09, 0.12, 0.1, 0.14, 0.11, 0.15, 0.12,
            0.18, 0.2, 0.28, 0.24, 0.35, 0.42, 0.45, 1.0, 0.0, 0.0, 0.0, 1.0, 0.5, 0.38, 0.3, 0.22, 0.25,
            0.16, 0.18, 0.12, 0.15, 0.1, 0.13, 0.09, 0.12, 0.08, 0.11, 0.1, 0.07, 0.11, 0.06, 0.09, 0.05, 0.08, 0.04]
acg_300 = [0.02, 0.06, 0.0, 0.05, 0.02, 0.08, 0.03, 0.0, 0.1, 0.04, 0.08, 0.0, 0.12, 0.05, 0.2, 0.08, 0.15,
           0.3, 0.18, 0.4, 0.25, 0.45, 0.35, 1.0, 0.0, 0.0, 0.0, 1.0, 0.4, 0.5, 0.22, 0.35, 0.15, 0.25, 0.1,
           0.18, 0.05, 0.12, 0.0, 0.1, 0.06, 0.02, 0.1, 0.0, 0.05, 0.08, 0.0, 0.04, 0.06, 0.0, 0.02]

# lookup tables built from the named arrays above
A_PCS = [pc_predefined, pc_rec1, pc_rec2, pc_linear64, pc_tetrodes]
A_TPL = [tpl_predefined, tpl_rec1, tpl_rec2, tpl_linear64, tpl_tetrodes]
B_UNITS = {602: (rows16, wav_602, acg_602), 1486: (rows9, wav_1486, acg_1486),
           23953: (rows16, wav_23953, acg_23953), 67809: (rows16, wav_67809, acg_67809),
           15961: (rows16, wav_15961, acg_15961), 14975: (rows16, wav_14975, acg_14975)}
C_UNITS = {2619: (rows_2619, tet_2619_l, tet_2619_r, acg_2619), 8826: (rows_8826, tet_8826_l, tet_8826_r, acg_8826),
           3959: (rows_3959, tet_3959_l, tet_3959_r, acg_3959), 21197: (rows_21197, tet_21197_l, tet_21197_r, acg_21197),
           7783: (rows_7783, tet_7783_l, tet_7783_r, acg_7783), 13526: (rows_13526, tet_13526_l, tet_13526_r, acg_13526),
           1729: (rows_1729, tet_1729_l, tet_1729_r, acg_1729), 300: (rows_300, tet_300_l, tet_300_r, acg_300)}

# ============================ LAYOUT HELPERS ============================
axes = {}
traces = []
annotations = []
count = [0]

SPINE = dict(visible=True, showline=True, linecolor="black", linewidth=2, ticks="", showticklabels=False)


def add_axes(x_px, y_px, xr, yr, xopt=None, yopt=None):
    count[0] += 1
    s = "" if count[0] == 1 else str(count[0])
    x0, x1 = x_px
    if x1 > W:
        xr = [xr[0], xr[0] + (xr[1] - xr[0]) * (W - x0) / (x1 - x0)]
        x1 = W
    xa = dict(domain=[x0 / W, x1 / W], range=xr, anchor="y" + s, visible=False,
              showgrid=False, zeroline=False, fixedrange=True)
    ya = dict(domain=[1 - y_px[1] / H, 1 - y_px[0] / H], range=yr, anchor="x" + s, visible=False,
              showgrid=False, zeroline=False, fixedrange=True)
    if xopt:
        xa.update(xopt)
    if yopt:
        ya.update(yopt)
    axes["xaxis" + s] = xa
    axes["yaxis" + s] = ya
    return "x" + s, "y" + s


def line(pts, xa, ya, color, width, dx=0.0, dy=0.0, smooth=0.85):
    traces.append(go.Scatter(
        x=[p[0] + dx for p in pts], y=[p[1] + dy for p in pts], xaxis=xa, yaxis=ya,
        mode="lines", line=dict(color=color, width=width, shape="spline", smoothing=smooth),
        hoverinfo="skip", showlegend=False))


def text(s, px, py, size, xanchor="center", bold=False):
    annotations.append(dict(text=("<b>%s</b>" % s) if bold else s, x=px / W, y=1 - py / H,
                            xref="paper", yref="paper", xanchor=xanchor, yanchor="middle",
                            showarrow=False, font=dict(size=size, color="black", family=FONT)))


def acg(vals, i, ybase, first):
    left = 71 + 142.7 * i
    xopt = dict(SPINE)
    if first:
        xopt.update(ticks="outside", ticklen=8, tickwidth=2, tickcolor="black", tickvals=[-50, 0, 50])
    xr = [-50, 50] if first else [-55, 55]
    xa, ya = add_axes((left, left + 111), (ybase - 47, ybase), xr, [0, 47 / 44.3], xopt)
    traces.append(go.Scatter(x=ACG_LAGS, y=vals, xaxis=xa, yaxis=ya, mode="lines", fill="tozeroy",
                             fillcolor=ACG_BLUE, line=dict(color="black", width=1.1),
                             hoverinfo="skip", showlegend=False))
    if first:
        for v, lab in zip([-50, 0, 50], ["\u221250", "0", "50"]):
            text(lab, left + (v + 50) * 1.1, ybase + 27, 20)


# ============================ PANEL a ============================
A_LEFT = [71, 306, 539.5, 773.5, 1008]
text("a", 55, 23, 26, bold=True)
for c in range(5):
    text(A_TITLES[c], A_LEFT[c] + 86, 25, 22)
    for r, (group, ydom, yr) in enumerate([(A_PCS, (48, 192), [-7.2, 7.2]),
                                            (A_TPL, (228, 374), [-7.3, 7.3])]):
        xopt = dict(SPINE)
        if r == 1 and c == 0:
            xopt.update(ticks="outside", ticklen=8, tickwidth=2, tickcolor="black", tickvals=[0, 2])
        xa, ya = add_axes((A_LEFT[c], A_LEFT[c] + 174), ydom, [-0.101, 2.101], yr, xopt, dict(SPINE))
        for k, curve in enumerate(group[c]):
            line(curve, xa, ya, TAB10[k], 1.8, smooth=0.9)
text("PCs", 209, 68, 26)
text("templates", 150, 237, 21, xanchor="left")
text("(single-channel)", 150, 260, 21, xanchor="left")
text("0", 79, 402, 20)
text("2", 237, 402, 20)
text("time (ms)", 326, 400, 26)

# ============================ PANEL b ============================
text("b", 59, 452, 26, bold=True)
text("64-channel linear", 93, 454, 22, xanchor="left")
text("n_sp =", 11, 492, 25, xanchor="left")
for i, nsp in enumerate(B_NSP):
    rows, waves, acg_vals = B_UNITS[nsp]
    left = 75.7 + 142.7 * i
    text(str(nsp), left + 50.5, 492, 22)
    xa, ya = add_axes((left, left + 101), (500, 680), [0, 2], [521.7 - 680, 521.7 - 500])
    for k, off in enumerate(rows):
        line(waves.get(k, FLAT), xa, ya, "#111111", 1.25, dy=-off, smooth=0.8)
    acg(acg_vals, i, 727, i == 0)
text("time (ms)", 280, 754, 26)

# ============================ PANEL c ============================
text("c", 59, 802, 26, bold=True)
text("tetrodes", 93, 803, 22, xanchor="left")
for i, nsp in enumerate(C_NSP):
    rows, wl, wr, acg_vals = C_UNITS[nsp]
    left = 75.7 + 142.7 * i
    text(str(nsp), left + 50.5, 842, 22)
    xa, ya = add_axes((left, left + 101), (862, 1025), [0, 4.49], [872 - 1025, 872 - 862])
    for k, off in enumerate(rows):
        line(wl.get(k, FLAT), xa, ya, "#111111", 1.25, dy=-off, smooth=0.8)
        line(wr.get(k, FLAT), xa, ya, "#111111", 1.25, dx=2.49, dy=-off, smooth=0.8)
    acg(acg_vals, i, 1076, i == 0)

# ============================ FIGURE ============================
fig = go.Figure(data=traces)
fig.update_layout(width=W, height=H, margin=dict(l=0, r=0, t=0, b=0),
                  paper_bgcolor="white", plot_bgcolor="rgba(0,0,0,0)", template="none",
                  showlegend=False, hovermode=False, annotations=annotations,
                  font=dict(family=FONT, color="black"), **axes)
fig.write_html("out.html")
